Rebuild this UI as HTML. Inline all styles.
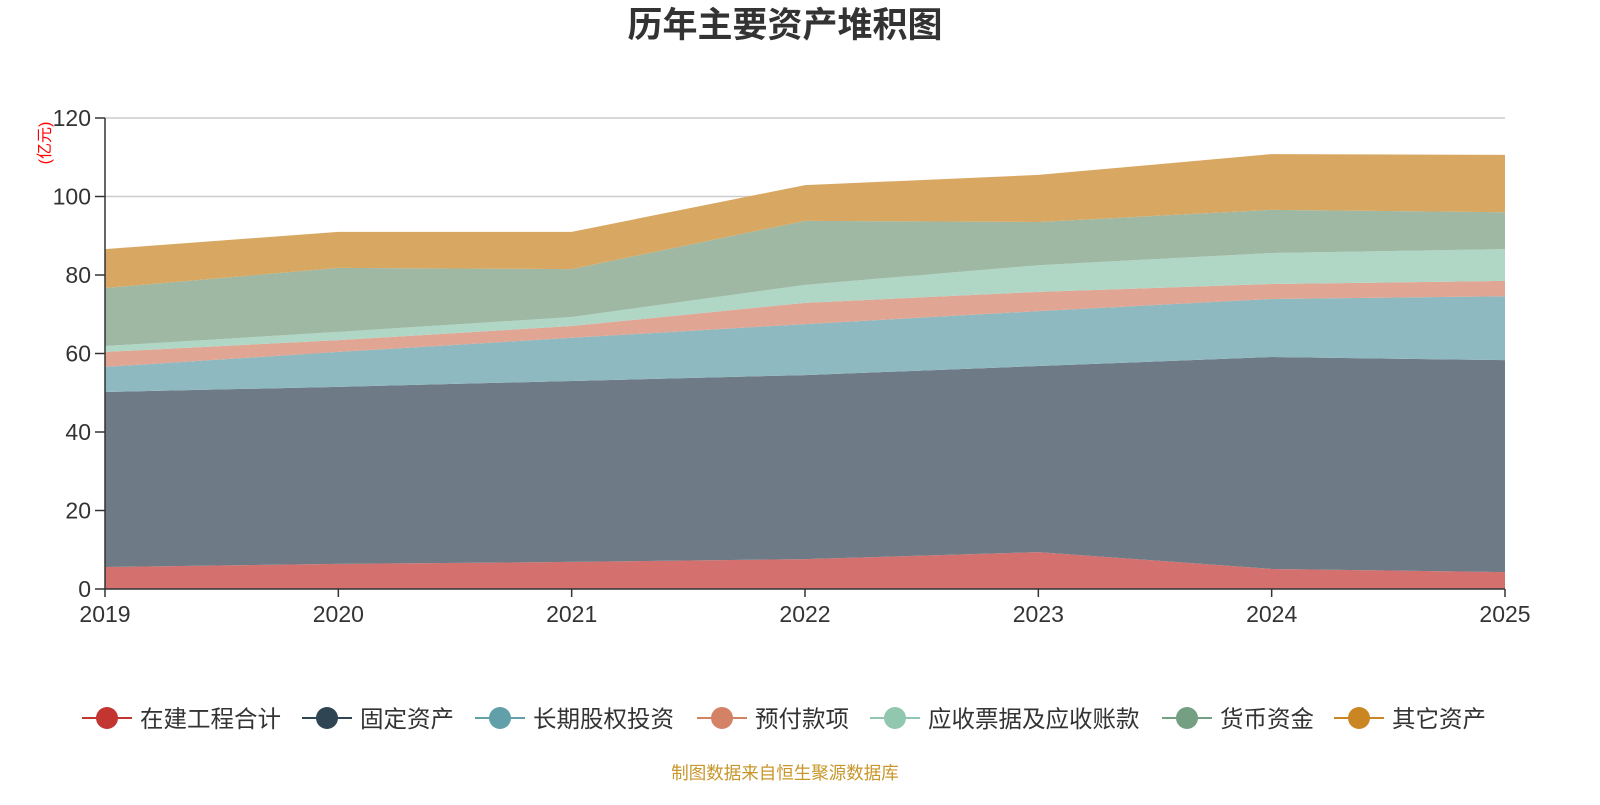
<!DOCTYPE html>
<html><head><meta charset="utf-8"><style>
body{margin:0;background:#fff;width:1600px;height:800px;overflow:hidden;font-family:"Liberation Sans","Noto Sans CJK SC",sans-serif}
</style></head><body>
<svg id="c" width="1600" height="800" style="font-family:'Liberation Sans','Noto Sans CJK SC',sans-serif">
<text x="785" y="37" text-anchor="middle" font-size="35" font-weight="bold" fill="#333">历年主要资产堆积图</text>
<text transform="translate(50,143) rotate(-90)" text-anchor="middle" font-size="16" fill="#f00">(亿元)</text>
<g id="grid"></g><g id="areas"></g><g id="axes"></g><g id="legend"></g>
<text x="785" y="779" text-anchor="middle" font-size="17.5" fill="#c8962a">制图数据来自恒生聚源数据库</text>
</svg>
<script>
const years=['2019','2020','2021','2022','2023','2024','2025'];
const seriesNames=['在建工程合计','固定资产','长期股权投资','预付款项','应收票据及应收账款','货币资金','其它资产'];
const s0=[5.6,6.4,6.9,7.6,9.4,5.1,4.3];
const s1=[44.6,45.1,46.1,46.9,47.4,54.0,54.0];
const s2=[6.4,8.9,11.0,13.0,14.0,14.8,16.3];
const s3=[3.8,3.0,3.0,5.4,4.9,3.8,3.9];
const s4=[1.5,2.1,2.3,4.6,6.8,7.9,8.1];
const s5=[14.8,16.3,12.2,16.3,11.0,11.0,9.4];
const s6=[9.9,9.2,9.5,9.1,12.0,14.2,14.6];
const yTicks=[0,20,40,60,80,100,120];
const series=[s0,s1,s2,s3,s4,s5,s6];
const fills=['#d4706e','#6e7b87','#8fb9c0','#e0a593','#b0d6c6','#9eb8a3','#d8a862'];
const marks=['#c23531','#2f4554','#61a0a8','#d48265','#91c7ae','#749f83','#ca8622'];
const X0=105,X1=1505,Y0=589,Y1=118;
const xs=i=>X0+(X1-X0)*i/(years.length-1);
const ys=v=>Y0-(Y0-Y1)*v/120;
const NS='http://www.w3.org/2000/svg';
function mk(t,a,p){const e=document.createElementNS(NS,t);for(const k in a)e.setAttribute(k,a[k]);p.appendChild(e);return e;}
const grid=document.getElementById('grid'),areas=document.getElementById('areas'),axes=document.getElementById('axes'),leg=document.getElementById('legend');
yTicks.forEach(v=>{
 if(v>0){const l=mk('line',{x1:X0,x2:X1,y1:ys(v),y2:ys(v),stroke:'#ccc','stroke-width':1.5},grid);
 
 }
 const t=mk('line',{x1:X0-10,x2:X0,y1:ys(v),y2:ys(v),stroke:'#333','stroke-width':1.5},axes);
 
 
 const tx=mk('text',{x:X0-14,y:ys(v)+8,'text-anchor':'end','font-size':23,fill:'#333'},axes);tx.textContent=v;
 
 
});
let base=years.map(()=>0);
series.forEach((s,k)=>{
 const top=base.map((b,i)=>b+s[i]);
 let d='M'+top.map((v,i)=>xs(i)+','+ys(v)).join('L');
 for(let i=years.length-1;i>=0;i--)d+='L'+xs(i)+','+ys(base[i]);
 const p=mk('path',{d:d+'Z',fill:fills[k],stroke:'none'},areas);
 
 
 base=top;
});
const ax=mk('line',{x1:X0,x2:X0,y1:Y1,y2:Y0,stroke:'#333','stroke-width':1.5},axes);


const bx=mk('line',{x1:X0,x2:X1,y1:Y0,y2:Y0,stroke:'#333','stroke-width':1.5},axes);


years.forEach((y,i)=>{
 const t=mk('line',{x1:xs(i),x2:xs(i),y1:Y0,y2:Y0+8,stroke:'#333','stroke-width':1.5},axes);
 
 
 const tx=mk('text',{x:xs(i),y:622,'text-anchor':'middle','font-size':23,fill:'#333'},axes);tx.textContent=y;
 
 
});
const lx=[107,327,500,722,895,1187,1359];
seriesNames.forEach((n,k)=>{
 const g=mk('g',{},leg);
 
 
 mk('line',{x1:lx[k]-25,x2:lx[k]+25,y1:718,y2:718,stroke:marks[k],'stroke-width':2},g);
 mk('circle',{cx:lx[k],cy:718,r:11,fill:marks[k]},g);
 const t=mk('text',{x:lx[k]+33,y:727,'font-size':23.5,fill:'#333'},g);t.textContent=n;
});
</script>
</body></html>
